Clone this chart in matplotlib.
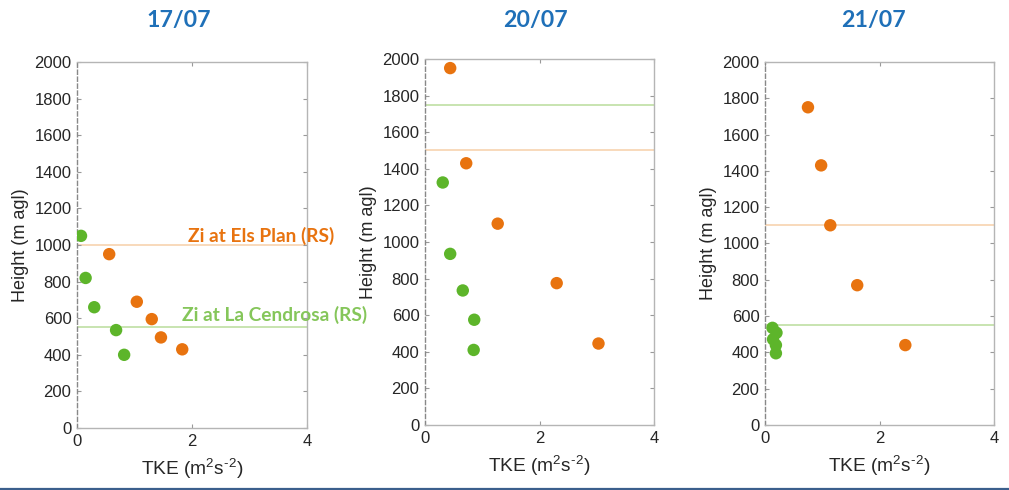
import numpy as np
import matplotlib
matplotlib.use("Agg")
import matplotlib.pyplot as plt
from matplotlib.lines import Line2D

plt.rcParams['font.family'] = ['Liberation Sans', 'DejaVu Sans']
plt.rcParams['mathtext.fontset'] = 'custom'
plt.rcParams['mathtext.rm'] = 'Liberation Sans'
plt.rcParams['mathtext.it'] = 'Liberation Sans'

# TKE (m2 s-2) and height (m agl) per day, La Cendrosa (green) and Els Plan (orange)
days = ['17/07', '20/07', '21/07']

tke_cendrosa = [
    [0.07, 0.15, 0.30, 0.68, 0.82],
    [0.31, 0.44, 0.66, 0.86, 0.85],
    [0.13, 0.20, 0.14, 0.19, 0.19],
]
z_cendrosa = [
    [1050, 820, 660, 535, 400],
    [1325, 935, 735, 575, 410],
    [535, 508, 472, 440, 395],
]
tke_elsplan = [
    [0.56, 1.04, 1.30, 1.46, 1.83],
    [0.44, 0.72, 1.27, 2.30, 3.03],
    [0.75, 0.98, 1.14, 1.61, 2.45],
]
z_elsplan = [
    [950, 690, 595, 495, 430],
    [1950, 1430, 1100, 775, 445],
    [1750, 1430, 1100, 770, 440],
]

# boundary layer height from radiosondes
zi_elsplan = [1000, 1500, 1100]
zi_cendrosa = [550, 1750, 550]

green = '#5db52a'
orange = '#e8730f'
green_line = '#b9dd9b'
orange_line = '#f6cfa8'
title_blue = '#1f70b8'

fig = plt.figure(figsize=(10.09, 4.90), dpi=100)
positions = [
    [0.0763, 0.1265, 0.228, 0.747],
    [0.4212, 0.1327, 0.227, 0.747],
    [0.7582, 0.1327, 0.227, 0.741],
]
title_x = [179 / 1009, 535 / 1009, 873 / 1009]

for i, day in enumerate(days):
    ax = fig.add_axes(positions[i])
    ax.axhline(zi_elsplan[i], color=orange_line, lw=1.1, zorder=1)
    ax.axhline(zi_cendrosa[i], color=green_line, lw=1.1, zorder=1)
    ax.scatter(tke_cendrosa[i], z_cendrosa[i], s=80, color=green, edgecolors='none', zorder=3)
    ax.scatter(tke_elsplan[i], z_elsplan[i], s=80, color=orange, edgecolors='none', zorder=3)

    ax.set_xlim(0, 4)
    ax.set_ylim(0, 2000)
    ax.set_xticks([0, 2, 4])
    ax.set_yticks(np.arange(0, 2001, 200))
    ax.tick_params(direction='in', length=3, width=0.8, color='#999999',
                   labelsize=12, labelcolor='#262626', top=True, right=True, pad=4)
    for side in ['top', 'right', 'bottom']:
        ax.spines[side].set_color('#b5b5b5')
        ax.spines[side].set_linewidth(1.0)
    ax.spines['left'].set_color('#888888')
    ax.spines['left'].set_linestyle((0, (3, 2)))
    ax.spines['left'].set_linewidth(1.0)

    ax.set_xlabel(r'TKE (m$^{2}$s$^{\text{-}2}$)', fontsize=13.8, color='#262626', labelpad=6)
    ax.set_ylabel('Height (m agl)', fontsize=13, color='#262626', labelpad=4)
    fig.text(title_x[i], 1 - 20 / 490, day, fontsize=16.7, fontweight='bold',
             color=title_blue, family=['Lato', 'DejaVu Sans'], ha='center', va='center')

    if i == 0:
        ax.text(1.93, 1050, 'Zi at Els Plan (RS)', color=orange, fontsize=13.8,
                fontweight='bold', family=['Lato', 'DejaVu Sans'],
                va='center', ha='left', clip_on=False)
        ax.text(1.83, 620, 'Zi at La Cendrosa (RS)', color='#85c65a', fontsize=13.8,
                fontweight='bold', family=['Lato', 'DejaVu Sans'],
                va='center', ha='left', clip_on=False)

# rule along the bottom edge
fig.add_artist(Line2D([0, 1], [1 - 488.5 / 490] * 2, transform=fig.transFigure,
                      color='#3b5f8c', lw=1.6))

fig.savefig('out.png', dpi=100)
